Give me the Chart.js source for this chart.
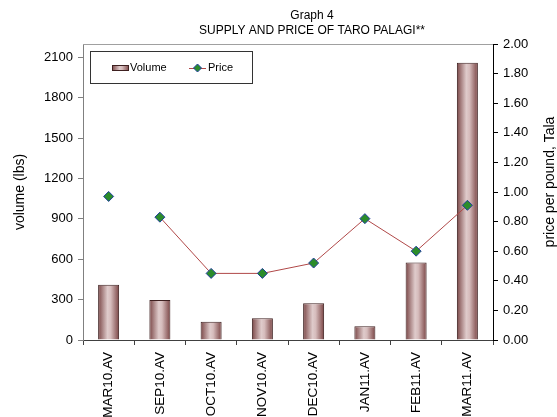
<!DOCTYPE html>
<html>
<head>
<meta charset="utf-8">
<script src="https://cdn.jsdelivr.net/npm/chart.js@4"></script>
<style>
html,body{margin:0;padding:0;background:#fff;}
#wrap{width:557px;height:417px;position:relative;}
</style>
</head>
<body>
<div id="wrap"><canvas id="c" width="557" height="417"></canvas></div>
<script>
const categories = ['MAR10.AV','SEP10.AV','OCT10.AV','NOV10.AV','DEC10.AV','JAN11.AV','FEB11.AV','MAR11.AV'];
const volumeLbs = [410, 298, 135, 162, 274, 102, 576, 2060];
const pricePerPound = [0.97, 0.83, 0.45, 0.45, 0.52, 0.82, 0.60, 0.91];
const volumeTicks = [0, 300, 600, 900, 1200, 1500, 1800, 2100];
const priceTicks = [0, 0.2, 0.4, 0.6, 0.8, 1.0, 1.2, 1.4, 1.6, 1.8, 2.0];
const titleLines = ['Graph 4', 'SUPPLY AND PRICE OF TARO PALAGI**'];
const seriesNames = ['Volume', 'Price'];
const leftAxisTitle = 'volume (lbs)';
const rightAxisTitle = 'price per pound, Tala';

const FONT = "'Liberation Sans', Arial, sans-serif";
const LINE_COLOR = '#b04848';
const MARK_FILL = '#2b8c2b';
const MARK_BORDER = '#1f3d9e';
const BAR_BORDER = '#3e2020';
const BAR_PCT = 0.41;

function barGradient(ctx, x0, x1) {
  const g = ctx.createLinearGradient(x0, 0, x1, 0);
  g.addColorStop(0, '#7a4646');
  g.addColorStop(0.45, '#dfcbcb');
  g.addColorStop(0.6, '#d6bcbc');
  g.addColorStop(1, '#7a4444');
  return g;
}

const decorPlugin = {
  id: 'decor',
  afterDraw(chart) {
    const ctx = chart.ctx;
    const a = chart.chartArea;
    ctx.save();
    // top border of plot area
    ctx.strokeStyle = '#a0a0a0';
    ctx.lineWidth = 1;
    ctx.beginPath();
    ctx.moveTo(a.left, a.top + 0.5);
    ctx.lineTo(a.right, a.top + 0.5);
    ctx.stroke();
    // titles
    ctx.fillStyle = '#000';
    ctx.textAlign = 'center';
    ctx.textBaseline = 'middle';
    ctx.font = '12px ' + FONT;
    const cx = (a.left + a.right) / 2 + 24;
    ctx.fillText(titleLines[0], cx, 16);
    ctx.fillText(titleLines[1], cx, 31);
    // right axis title, reading bottom to top
    ctx.save();
    ctx.translate(chart.width - 7, (a.top + a.bottom) / 2 - 10);
    ctx.rotate(-Math.PI / 2);
    ctx.font = '14px ' + FONT;
    ctx.fillText(rightAxisTitle, 0, 0);
    ctx.restore();
    // legend box
    const lx = a.left + 7, ly = a.top + 7, lw = 162, lh = 32;
    ctx.fillStyle = '#fff';
    ctx.fillRect(lx, ly, lw, lh);
    ctx.strokeStyle = '#333';
    ctx.strokeRect(lx + 0.5, ly + 0.5, lw, lh);
    const my = ly + 17;
    // volume icon
    const ix = lx + 22;
    ctx.fillStyle = barGradient(ctx, ix, ix + 17);
    ctx.fillRect(ix, my - 3, 17, 6);
    ctx.strokeStyle = BAR_BORDER;
    ctx.strokeRect(ix + 0.5, my - 2.5, 16, 5);
    ctx.fillStyle = '#000';
    ctx.textAlign = 'left';
    ctx.font = '11px ' + FONT;
    ctx.fillText(seriesNames[0], ix + 18, my);
    // price icon
    const px = lx + 99;
    ctx.strokeStyle = LINE_COLOR;
    ctx.beginPath();
    ctx.moveTo(px, my + 0.5);
    ctx.lineTo(px + 17, my + 0.5);
    ctx.stroke();
    ctx.beginPath();
    const r = 4;
    ctx.moveTo(px + 8.5, my - r);
    ctx.lineTo(px + 8.5 + r, my);
    ctx.lineTo(px + 8.5, my + r);
    ctx.lineTo(px + 8.5 - r, my);
    ctx.closePath();
    ctx.fillStyle = MARK_FILL;
    ctx.fill();
    ctx.strokeStyle = MARK_BORDER;
    ctx.stroke();
    ctx.fillStyle = '#000';
    ctx.fillText(seriesNames[1], px + 19, my);
    ctx.restore();
  }
};

new Chart(document.getElementById('c'), {
  type: 'bar',
  data: {
    labels: categories,
    datasets: [
      {
        type: 'line',
        label: seriesNames[1],
        data: pricePerPound,
        yAxisID: 'y1',
        borderColor: LINE_COLOR,
        borderWidth: 1,
        pointStyle: 'rectRot',
        pointRadius: 5,
        pointBackgroundColor: MARK_FILL,
        pointBorderColor: MARK_BORDER,
        pointBorderWidth: 1,
        tension: 0,
        order: 0,
        segment: {
          borderColor: c => c.p0DataIndex === 0 ? 'rgba(0,0,0,0)' : LINE_COLOR
        }
      },
      {
        type: 'bar',
        label: seriesNames[0],
        data: volumeLbs,
        yAxisID: 'y',
        borderColor: BAR_BORDER,
        borderWidth: 1,
        borderSkipped: 'bottom',
        barPercentage: BAR_PCT,
        categoryPercentage: 1,
        order: 1,
        backgroundColor: c => {
          const chart = c.chart;
          const a = chart.chartArea;
          if (!a) return '#b08888';
          const x = chart.scales.x.getPixelForValue(c.dataIndex);
          const w = (a.right - a.left) / categories.length * BAR_PCT;
          return barGradient(chart.ctx, x - w / 2, x + w / 2);
        }
      }
    ]
  },
  options: {
    responsive: false,
    animation: false,
    devicePixelRatio: 1,
    layout: { padding: { top: 44, left: 0, right: 0, bottom: 0 } },
    plugins: { legend: { display: false }, tooltip: { enabled: false }, title: { display: false } },
    scales: {
      x: {
        offset: true,
        grid: { display: true, drawOnChartArea: false, offset: true, tickLength: 5, color: '#404040' },
        border: { display: true, color: '#404040' },
        ticks: { minRotation: 90, maxRotation: 90, autoSkip: false, padding: 7, color: '#000', font: { family: FONT, size: 13.5 } },
        afterFit(s) { s.height = 77; }
      },
      y: {
        position: 'left',
        min: 0, max: 2200,
        grid: { drawOnChartArea: false, tickLength: 5, color: '#808080' },
        border: { color: '#808080' },
        ticks: { padding: 5, color: '#000', font: { family: FONT, size: 13 }, callback: v => String(v) },
        afterBuildTicks(s) { s.ticks = volumeTicks.map(v => ({ value: v })); },
        title: { display: true, text: leftAxisTitle, color: '#000', font: { family: FONT, size: 14 }, padding: { top: 12, bottom: 0 } },
        afterFit(s) { s.width = 83; }
      },
      y1: {
        position: 'right',
        min: 0, max: 2,
        grid: { drawOnChartArea: false, tickLength: 5, color: '#000' },
        border: { color: '#000' },
        ticks: { padding: 5, color: '#000', font: { family: FONT, size: 13 }, callback: v => Number(v).toFixed(2) },
        afterBuildTicks(s) { s.ticks = priceTicks.map(v => ({ value: v })); },
        title: { display: false },
        afterFit(s) { s.width = 64; }
      }
    }
  },
  plugins: [decorPlugin]
});
</script>
</body>
</html>
